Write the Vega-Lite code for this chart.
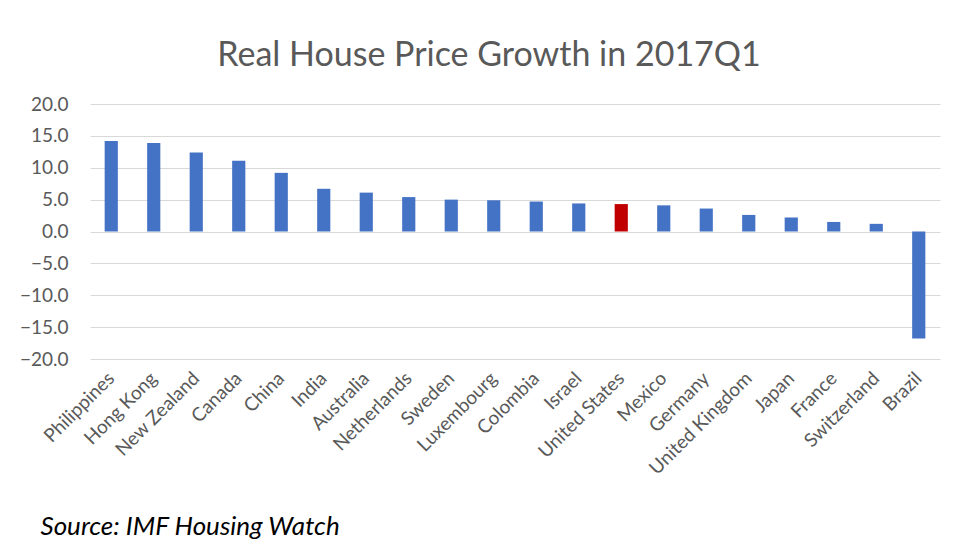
{
  "$schema": "https://vega.github.io/schema/vega-lite/v6.json",
  "width": 850,
  "height": 255,
  "autosize": {"type": "none"},
  "padding": {"left": 90, "top": 104, "right": 18, "bottom": 201},
  "background": "white",
  "title": {
    "text": "Real House Price Growth in 2017Q1",
    "font": "Lato",
    "fontSize": 34,
    "fontWeight": "normal",
    "color": "#595959",
    "anchor": "middle",
    "offset": 22,
    "dx": -26
  },
  "data": {
    "values": [
      {"country": "Philippines", "growth": 14.2},
      {"country": "Hong Kong", "growth": 13.9},
      {"country": "New Zealand", "growth": 12.4},
      {"country": "Canada", "growth": 11.1},
      {"country": "China", "growth": 9.2},
      {"country": "India", "growth": 6.7},
      {"country": "Australia", "growth": 6.1},
      {"country": "Netherlands", "growth": 5.4},
      {"country": "Sweden", "growth": 5.0},
      {"country": "Luxembourg", "growth": 4.9},
      {"country": "Colombia", "growth": 4.7},
      {"country": "Israel", "growth": 4.4},
      {"country": "United States", "growth": 4.3},
      {"country": "Mexico", "growth": 4.1},
      {"country": "Germany", "growth": 3.6},
      {"country": "United Kingdom", "growth": 2.6},
      {"country": "Japan", "growth": 2.2},
      {"country": "France", "growth": 1.5},
      {"country": "Switzerland", "growth": 1.2},
      {"country": "Brazil", "growth": -16.8}
    ]
  },
  "mark": {"type": "bar"},
  "encoding": {
    "x": {
      "field": "country",
      "type": "nominal",
      "sort": null,
      "scale": {"paddingInner": 0.69, "paddingOuter": 0.345},
      "axis": {
        "title": "Source: IMF Housing Watch",
        "titleFont": "Lato",
        "titleFontStyle": "italic",
        "titleFontWeight": "normal",
        "titleFontSize": 26,
        "titleColor": "#000000",
        "titleAnchor": "start",
        "titleAlign": "left",
        "titleBaseline": "alphabetic",
        "titleX": -50,
        "titleY": 175,
        "labelAngle": -45,
        "labelAlign": "right",
        "labelBaseline": "middle",
        "labelFont": "Lato",
        "labelFontSize": 19,
        "labelColor": "#595959",
        "labelPadding": 16,
        "domain": false,
        "ticks": false,
        "grid": false,
        "labelOverlap": false
      }
    },
    "y": {
      "field": "growth",
      "type": "quantitative",
      "scale": {"domain": [-20, 20], "nice": false},
      "axis": {
        "title": null,
        "values": [-20, -15, -10, -5, 0, 5, 10, 15, 20],
        "format": ".1f",
        "labelFont": "Lato",
        "labelFontSize": 19,
        "labelColor": "#595959",
        "labelPadding": 22,
        "domain": false,
        "ticks": false,
        "grid": true,
        "gridColor": "#d9d9d9",
        "gridWidth": 1.2
      }
    },
    "color": {
      "condition": {"test": "datum.country === 'United States'", "value": "#c00000"},
      "value": "#4472c4"
    }
  },
  "config": {"view": {"stroke": null}}
}
